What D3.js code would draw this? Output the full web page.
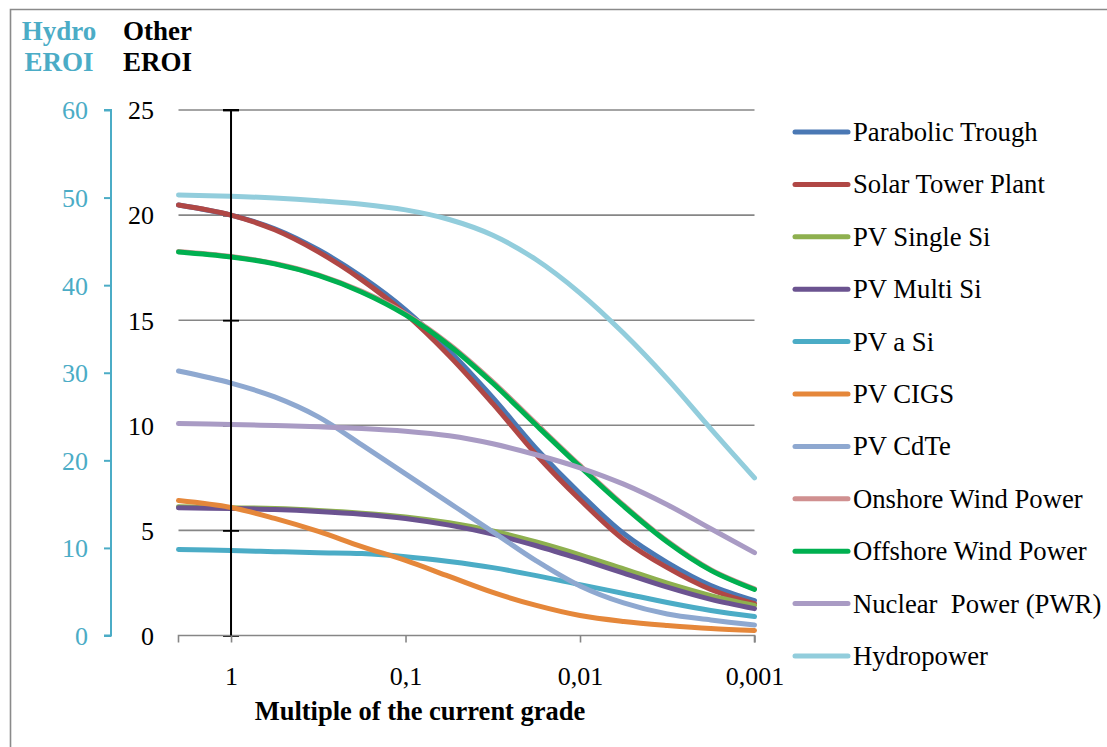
<!DOCTYPE html>
<html>
<head>
<meta charset="utf-8">
<script src="https://cdn.jsdelivr.net/npm/d3@7"></script>
<style>
  html, body { margin: 0; padding: 0; background: #fff; }
  svg { display: block; font-family: "Liberation Serif", "Times New Roman", serif; }
  svg text { font-family: "Liberation Serif", "Times New Roman", serif; }
</style>
</head>
<body>
<svg id="chart" width="1107" height="747" font-family="Liberation Serif, serif"></svg>
<script>
// ---------- DATA ----------
const grades = [2, 1, 0.562, 0.316, 0.178, 0.1, 0.0562, 0.0316, 0.0178, 0.01, 0.00562, 0.00316, 0.00178, 0.001];
const xTickValues = [1, 0.1, 0.01, 0.001];
const xTickLabels = ["1", "0,1", "0,01", "0,001"];
const otherTicks = [0, 5, 10, 15, 20, 25];
const hydroTicks = [0, 10, 20, 30, 40, 50, 60];

const seriesNames = ["Parabolic Trough", "Solar Tower Plant", "PV Single Si", "PV Multi Si", "PV a Si", "PV CIGS", "PV CdTe", "Onshore Wind Power", "Offshore Wind Power", "Nuclear  Power (PWR)", "Hydropower"];
const seriesColors = ["#4A78B4", "#B04745", "#8EB04F", "#6B5390", "#4BACC6", "#E5873A", "#8EA8D0", "#D09090", "#00B050", "#A99BC4", "#92CDDC"];

const parabolicTrough = [20.48, 20.0, 19.35, 18.35, 17.06, 15.49, 13.54, 11.31, 8.89, 6.75, 4.85, 3.47, 2.38, 1.66];
const solarTower      = [20.48, 20.0, 19.30, 18.25, 16.92, 15.30, 13.31, 11.03, 8.60, 6.46, 4.56, 3.23, 2.19, 1.52];
const pvSingleSi      = [6.13, 6.08, 6.04, 5.95, 5.82, 5.64, 5.36, 4.97, 4.45, 3.84, 3.17, 2.49, 1.90, 1.43];
const pvMultiSi       = [6.08, 6.04, 5.99, 5.90, 5.77, 5.57, 5.25, 4.82, 4.27, 3.64, 2.97, 2.30, 1.72, 1.28];
const pvASi           = [4.09, 4.04, 3.99, 3.94, 3.90, 3.75, 3.52, 3.23, 2.85, 2.42, 2.00, 1.57, 1.19, 0.90];
const pvCIGS          = [6.42, 6.09, 5.57, 4.95, 4.23, 3.57, 2.81, 2.05, 1.43, 0.95, 0.67, 0.48, 0.33, 0.24];
const pvCdTe          = [12.58, 12.01, 11.35, 10.40, 9.07, 7.69, 6.31, 4.93, 3.55, 2.36, 1.55, 1.02, 0.74, 0.50];
const onshoreWind     = [18.27, 18.03, 17.70, 17.16, 16.37, 15.30, 13.86, 12.07, 10.07, 8.09, 6.20, 4.49, 3.13, 2.22];
const offshoreWind    = [18.25, 18.01, 17.68, 17.13, 16.33, 15.25, 13.80, 12.00, 10.00, 8.03, 6.15, 4.45, 3.10, 2.19];
const nuclearPWR      = [10.08, 10.04, 9.99, 9.93, 9.85, 9.72, 9.50, 9.12, 8.60, 7.98, 7.20, 6.22, 5.08, 3.94];
const hydropower      = [50.3, 50.15, 49.95, 49.65, 49.25, 48.6, 47.5, 45.7, 42.9, 39.1, 34.5, 29.3, 23.6, 18.0];

const seriesValues = [parabolicTrough, solarTower, pvSingleSi, pvMultiSi, pvASi, pvCIGS, pvCdTe, onshoreWind, offshoreWind, nuclearPWR, hydropower];
const seriesAxis = ["other", "other", "other", "other", "other", "other", "other", "other", "other", "other", "hydro"];

// ---------- LAYOUT ----------
const FONT = "'Liberation Serif', 'Times New Roman', serif";
const svg = d3.select("#chart");
const plotLeft = 178.5, plotRight = 754.5, plotTop = 110, plotBottom = 635.5;
const gridColor = "#868686";
const hydroColor = "#4BACC6";

const x = d3.scaleLog().domain([2, 0.001]).range([plotLeft, plotRight]);
const yOther = d3.scaleLinear().domain([0, 25]).range([plotBottom, plotTop]);
const yHydro = d3.scaleLinear().domain([0, 60]).range([plotBottom, plotTop]);

// outer frame (top + left visible)
svg.append("path")
  .attr("d", "M10.5,760 L10.5,9.5 L1120,9.5")
  .attr("fill", "none").attr("stroke", "#8a8a8a").attr("stroke-width", 1.6);

// gridlines
svg.append("g").selectAll("line").data(otherTicks.filter(d => d > 0)).join("line")
  .attr("x1", plotLeft).attr("x2", plotRight)
  .attr("y1", d => yOther(d)).attr("y2", d => yOther(d))
  .attr("stroke", gridColor).attr("stroke-width", 1.6);

// other-axis ticks (crossing at x = 1)
const otherAxis = d3.axisLeft(yOther).tickValues(otherTicks).tickSize(16).tickPadding(69).tickFormat(d3.format("d"));
const gOther = svg.append("g").attr("transform", `translate(${x(1) + 8},0)`).call(otherAxis)
  .attr("font-family", FONT).attr("font-size", 26);
gOther.select(".domain").remove();
gOther.selectAll(".tick line").attr("stroke", "#000").attr("stroke-width", 1.8);
gOther.selectAll(".tick text").attr("fill", "#000").style("font-size", "26px")
  .style("font-family", FONT).attr("dy", "0.34em");

// x axis
const xAxis = d3.axisBottom(x).tickValues(xTickValues).tickSize(7).tickPadding(24)
  .tickFormat((d, i) => xTickLabels[i]);
const gX = svg.append("g").attr("transform", `translate(0,${plotBottom})`).call(xAxis)
  .attr("font-family", FONT).attr("font-size", 26);
gX.select(".domain").attr("stroke", gridColor).attr("stroke-width", 1.6)
  .attr("d", `M${plotLeft},7V0H${plotRight}V7`);
gX.selectAll(".tick line").attr("stroke", gridColor).attr("stroke-width", 1.6);
gX.selectAll(".tick text").attr("fill", "#000").style("font-size", "26px")
  .style("font-family", FONT);

// hydro axis
const hydroAxis = d3.axisLeft(yHydro).tickValues(hydroTicks).tickSize(7).tickPadding(16).tickFormat(d3.format("d"));
const gH = svg.append("g").attr("transform", "translate(111,0)").call(hydroAxis)
  .attr("font-family", FONT).attr("font-size", 26);
gH.select(".domain").attr("stroke", hydroColor).attr("stroke-width", 2)
  .attr("d", `M-7,${plotTop}H0V${plotBottom}H-7`);
gH.selectAll(".tick line").attr("stroke", hydroColor).attr("stroke-width", 2);
gH.selectAll(".tick text").attr("fill", hydroColor).style("font-size", "26px")
  .style("font-family", FONT).attr("dy", "0.34em");

// series
const line = d3.line().curve(d3.curveCatmullRom.alpha(0.5));
const gS = svg.append("g");
seriesValues.forEach((vals, i) => {
  const yS = seriesAxis[i] === "hydro" ? yHydro : yOther;
  gS.append("path")
    .attr("d", line(grades.map((g, j) => [x(g), yS(vals[j])])))
    .attr("fill", "none")
    .attr("stroke", seriesColors[i])
    .attr("stroke-width", 5)
    .attr("stroke-linecap", "round")
    .attr("stroke-linejoin", "round");
});

// vertical line at x = 1 with top cap (drawn above series)
svg.append("line").attr("x1", x(1)).attr("x2", x(1))
  .attr("y1", yOther(25)).attr("y2", yOther(0))
  .attr("stroke", "#000").attr("stroke-width", 2);
svg.append("line").attr("x1", x(1) - 8).attr("x2", x(1) + 8)
  .attr("y1", yOther(25)).attr("y2", yOther(25))
  .attr("stroke", "#000").attr("stroke-width", 2);

// axis titles
const tH = svg.append("text").attr("fill", hydroColor).attr("font-weight", "bold")
  .style("font-size", "27px").style("font-family", FONT).attr("text-anchor", "middle");
tH.append("tspan").attr("x", 59).attr("y", 40).text("Hydro");
tH.append("tspan").attr("x", 59).attr("y", 71).text("EROI");
const tO = svg.append("text").attr("fill", "#000").attr("font-weight", "bold")
  .style("font-size", "27px").style("font-family", FONT).attr("text-anchor", "start");
tO.append("tspan").attr("x", 123).attr("y", 40).text("Other");
tO.append("tspan").attr("x", 123).attr("y", 71).text("EROI");

svg.append("text").attr("x", 420).attr("y", 720).attr("text-anchor", "middle")
  .attr("font-weight", "bold").style("font-size", "26.5px").style("font-family", FONT)
  .text("Multiple of the current grade");

// legend
const legY = d3.scalePoint().domain(seriesNames).range([132, 656]);
const gL = svg.append("g");
seriesNames.forEach((name, i) => {
  const yy = legY(name);
  gL.append("line").attr("x1", 795).attr("x2", 848).attr("y1", yy).attr("y2", yy)
    .attr("stroke", seriesColors[i]).attr("stroke-width", 5).attr("stroke-linecap", "round");
  gL.append("text").attr("x", 853).attr("y", yy + 9).style("font-size", "26.7px")
    .style("font-family", FONT)
    .attr("fill", "#000").style("white-space", "pre").attr("xml:space", "preserve").text(name);
});
</script>
</body>
</html>
